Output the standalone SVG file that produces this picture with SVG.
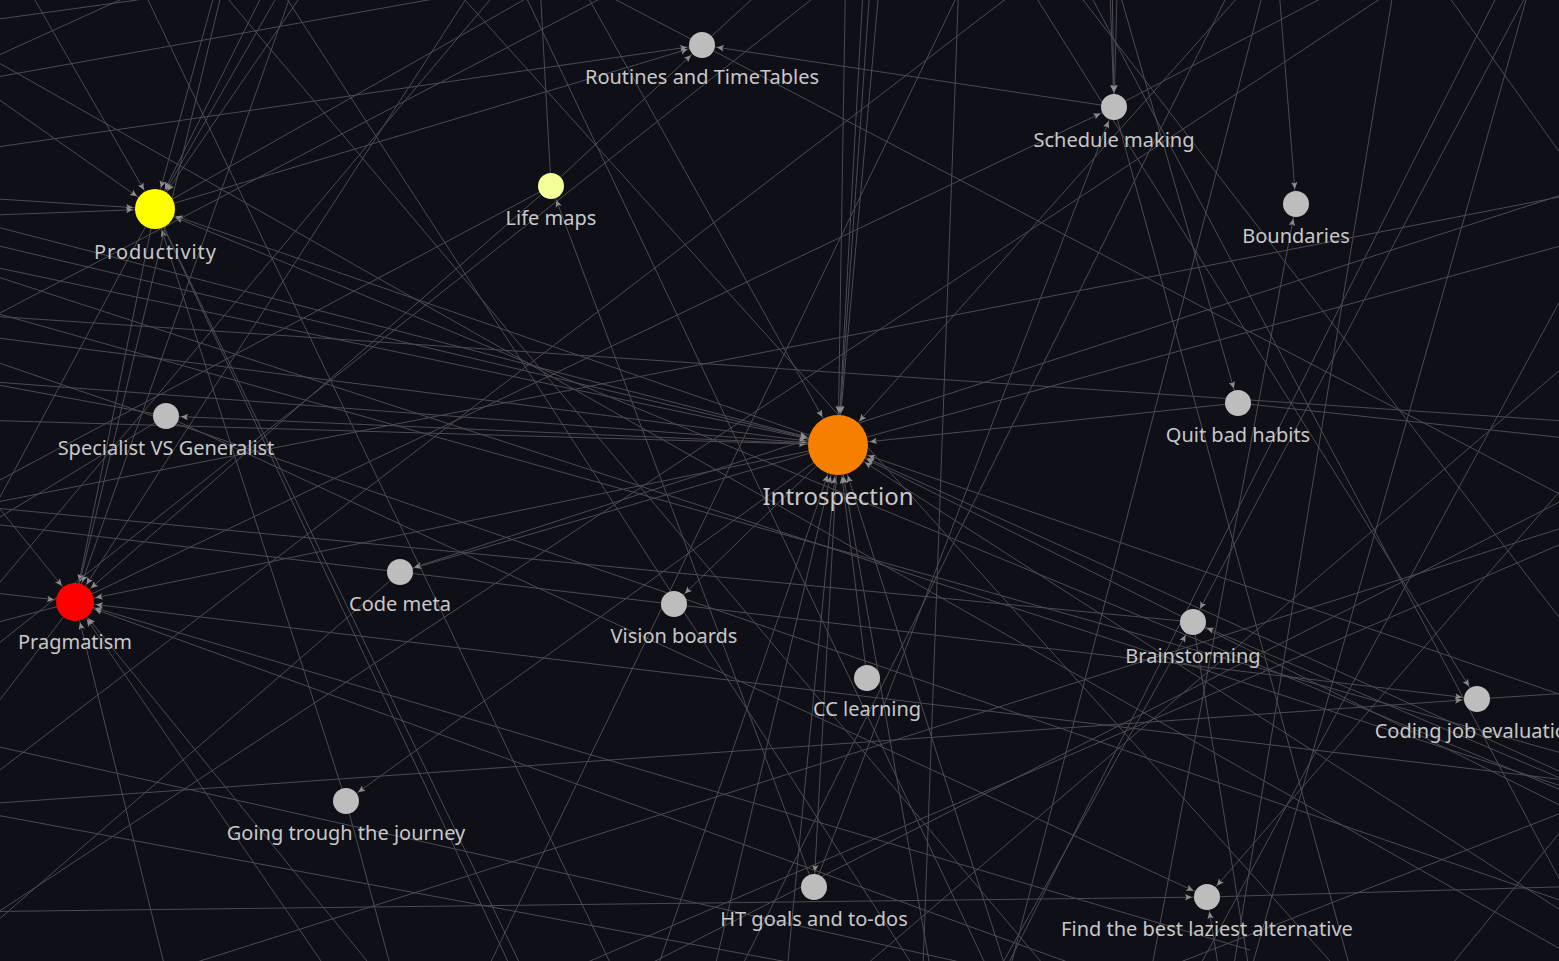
<svg xmlns="http://www.w3.org/2000/svg" width="1559" height="961" viewBox="0 0 1559 961">
<defs>
<style>
.e{stroke:#4b4b50;stroke-width:1;fill:none}
.a13{marker-end:url(#m13)}
.a19{marker-end:url(#m19)}
.a20{marker-end:url(#m20)}
.a30{marker-end:url(#m30)}
.n{fill:#bdbdbd}
.t{font-family:"Noto Sans","Open Sans","DejaVu Sans",sans-serif;font-size:20px;fill:#c8c8c8;text-anchor:middle}
.big{font-size:24px}
</style>
<marker id="m13" markerUnits="userSpaceOnUse" orient="auto" refX="15" refY="0" markerWidth="10" markerHeight="10" overflow="visible"><path d="M0,0 L-7,-3.2 L-5.5,0 L-7,3.2 Z" fill="#8c8c8c"/></marker>
<marker id="m19" markerUnits="userSpaceOnUse" orient="auto" refX="21" refY="0" markerWidth="10" markerHeight="10" overflow="visible"><path d="M0,0 L-7,-3.2 L-5.5,0 L-7,3.2 Z" fill="#8c8c8c"/></marker>
<marker id="m20" markerUnits="userSpaceOnUse" orient="auto" refX="22" refY="0" markerWidth="10" markerHeight="10" overflow="visible"><path d="M0,0 L-7,-3.2 L-5.5,0 L-7,3.2 Z" fill="#8c8c8c"/></marker>
<marker id="m30" markerUnits="userSpaceOnUse" orient="auto" refX="32" refY="0" markerWidth="10" markerHeight="10" overflow="visible"><path d="M0,0 L-7,-3.2 L-5.5,0 L-7,3.2 Z" fill="#8c8c8c"/></marker>
</defs>
<rect width="1559" height="961" fill="#0f0f17"/>
<g id="connectors">
<line class="e a20" x1="-300" y1="180" x2="155" y2="209"/>
<line class="e a20" x1="-300" y1="226" x2="155" y2="209"/>
<line class="e a20" x1="-300" y1="-110" x2="155" y2="209"/>
<line class="e a20" x1="-80" y1="-200" x2="155" y2="209"/>
<line class="e a20" x1="268" y1="-200" x2="155" y2="209"/>
<line class="e a20" x1="360" y1="-200" x2="155" y2="209"/>
<line class="e a20" x1="390" y1="-200" x2="155" y2="209"/>
<line class="e a20" x1="435" y1="-200" x2="155" y2="209"/>
<line class="e a20" x1="838" y1="445" x2="155" y2="209"/>
<line class="e a20" x1="346" y1="801" x2="155" y2="209"/>
<line class="e a20" x1="1900" y1="930" x2="155" y2="209"/>
<line class="e a13" x1="155" y1="209" x2="702" y2="45"/>
<line class="e a19" x1="155" y1="209" x2="75" y2="602"/>
<line class="e" x1="155" y1="209" x2="700" y2="-100"/>
<line class="e" x1="155" y1="209" x2="540" y2="1030"/>
<line class="e" x1="155" y1="209" x2="552" y2="1030"/>
<line class="e" x1="155" y1="209" x2="-120" y2="720"/>
<line class="e a30" x1="-300" y1="150" x2="838" y2="445"/>
<line class="e a30" x1="-300" y1="175" x2="838" y2="445"/>
<line class="e a30" x1="-300" y1="205" x2="838" y2="445"/>
<line class="e a30" x1="-300" y1="300" x2="838" y2="445"/>
<line class="e a30" x1="-300" y1="360" x2="838" y2="445"/>
<line class="e a30" x1="-300" y1="412" x2="838" y2="445"/>
<line class="e a30" x1="879" y1="-300" x2="838" y2="445"/>
<line class="e a30" x1="890" y1="-300" x2="838" y2="445"/>
<line class="e a30" x1="905" y1="-300" x2="838" y2="445"/>
<line class="e a30" x1="850" y1="-300" x2="838" y2="445"/>
<line class="e a30" x1="478" y1="-200" x2="838" y2="445"/>
<line class="e a30" x1="1414" y1="-200" x2="838" y2="445"/>
<line class="e a30" x1="867" y1="678" x2="838" y2="445"/>
<line class="e a30" x1="560" y1="1250" x2="838" y2="445"/>
<line class="e a30" x1="660" y1="1200" x2="838" y2="445"/>
<line class="e a30" x1="760" y1="1250" x2="838" y2="445"/>
<line class="e a30" x1="980" y1="1250" x2="838" y2="445"/>
<line class="e a30" x1="1080" y1="1200" x2="838" y2="445"/>
<line class="e a30" x1="1800" y1="880" x2="838" y2="445"/>
<line class="e a30" x1="1850" y1="950" x2="838" y2="445"/>
<line class="e a30" x1="1750" y1="760" x2="838" y2="445"/>
<line class="e a30" x1="1700" y1="1000" x2="838" y2="445"/>
<line class="e a30" x1="1238" y1="403" x2="838" y2="445"/>
<line class="e" x1="838" y1="445" x2="1800" y2="180"/>
<line class="e a13" x1="838" y1="445" x2="166" y2="416"/>
<line class="e a13" x1="838" y1="445" x2="400" y2="572"/>
<line class="e a13" x1="838" y1="445" x2="674" y2="604"/>
<line class="e a13" x1="838" y1="445" x2="814" y2="887"/>
<line class="e a19" x1="838" y1="445" x2="75" y2="602"/>
<line class="e a13" x1="838" y1="445" x2="346" y2="801"/>
<line class="e a13" x1="1100" y1="-300" x2="1114" y2="107"/>
<line class="e a13" x1="1108" y1="-300" x2="1114" y2="107"/>
<line class="e a13" x1="1125" y1="-300" x2="1114" y2="107"/>
<line class="e a13" x1="75" y1="602" x2="1114" y2="107"/>
<line class="e a13" x1="814" y1="887" x2="1114" y2="107"/>
<line class="e a13" x1="1114" y1="107" x2="702" y2="45"/>
<line class="e" x1="1114" y1="107" x2="1400" y2="1150"/>
<line class="e" x1="1114" y1="107" x2="1700" y2="-200"/>
<line class="e a13" x1="551" y1="186" x2="702" y2="45"/>
<line class="e a13" x1="-300" y1="190" x2="702" y2="45"/>
<line class="e" x1="702" y1="45" x2="860" y2="-100"/>
<line class="e a13" x1="814" y1="887" x2="551" y2="186"/>
<line class="e a19" x1="551" y1="186" x2="75" y2="602"/>
<line class="e" x1="551" y1="186" x2="530" y2="-200"/>
<line class="e" x1="551" y1="186" x2="-300" y2="640"/>
<line class="e a13" x1="1090" y1="-110" x2="1238" y2="403"/>
<line class="e" x1="1238" y1="403" x2="1800" y2="463"/>
<line class="e a13" x1="1264" y1="-200" x2="1296" y2="204"/>
<line class="e a13" x1="1140" y1="1030" x2="1296" y2="204"/>
<line class="e a13" x1="1630" y1="-200" x2="1193" y2="622"/>
<line class="e a13" x1="982" y1="1000" x2="1193" y2="622"/>
<line class="e a13" x1="1800" y1="880" x2="1193" y2="622"/>
<line class="e" x1="1193" y1="622" x2="1270" y2="1100"/>
<line class="e" x1="1193" y1="622" x2="-300" y2="480"/>
<line class="e a13" x1="1000" y1="-60" x2="1477" y2="699"/>
<line class="e a13" x1="-300" y1="824" x2="1477" y2="699"/>
<line class="e a13" x1="-50" y1="519" x2="1477" y2="699"/>
<line class="e" x1="1477" y1="699" x2="1800" y2="678"/>
<line class="e a13" x1="166" y1="416" x2="1207" y2="897"/>
<line class="e a13" x1="1700" y1="330" x2="1207" y2="897"/>
<line class="e a13" x1="1240" y1="1100" x2="1207" y2="897"/>
<line class="e a13" x1="-300" y1="915" x2="1207" y2="897"/>
<line class="e" x1="1207" y1="897" x2="1800" y2="880"/>
<line class="e a13" x1="1700" y1="150" x2="400" y2="572"/>
<line class="e" x1="400" y1="572" x2="-100" y2="1005"/>
<line class="e" x1="346" y1="801" x2="440" y2="1150"/>
<line class="e" x1="166" y1="416" x2="-300" y2="700"/>
<line class="e" x1="166" y1="416" x2="-300" y2="330"/>
<line class="e a19" x1="360" y1="-200" x2="75" y2="602"/>
<line class="e a19" x1="268" y1="-200" x2="75" y2="602"/>
<line class="e a19" x1="595" y1="-200" x2="75" y2="602"/>
<line class="e a19" x1="-300" y1="560" x2="75" y2="602"/>
<line class="e a19" x1="-250" y1="200" x2="75" y2="602"/>
<line class="e a19" x1="1200" y1="1010" x2="75" y2="602"/>
<line class="e a19" x1="1250" y1="950" x2="75" y2="602"/>
<line class="e a19" x1="480" y1="1100" x2="75" y2="602"/>
<line class="e a19" x1="430" y1="1120" x2="75" y2="602"/>
<line class="e a19" x1="200" y1="1110" x2="75" y2="602"/>
<line class="e a19" x1="1900" y1="820" x2="75" y2="602"/>
<line class="e" x1="75" y1="602" x2="-300" y2="700"/>
<line class="e" x1="75" y1="602" x2="-200" y2="960"/>
<line class="e" x1="60" y1="-200" x2="1200" y2="1150"/>
<line class="e" x1="-250" y1="300" x2="1850" y2="440"/>
<line class="e" x1="330" y1="-150" x2="1800" y2="620"/>
<line class="e" x1="700" y1="-250" x2="-200" y2="820"/>
<line class="e" x1="1100" y1="-300" x2="400" y2="1150"/>
<line class="e" x1="1300" y1="-150" x2="650" y2="1150"/>
<line class="e" x1="1560" y1="-120" x2="-150" y2="1010"/>
<line class="e" x1="1800" y1="150" x2="-300" y2="560"/>
<line class="e" x1="1850" y1="420" x2="150" y2="1150"/>
<line class="e" x1="1850" y1="880" x2="-300" y2="180"/>
<line class="e" x1="1500" y1="1150" x2="330" y2="-150"/>
<line class="e" x1="1200" y1="1150" x2="1560" y2="-120"/>
<line class="e" x1="950" y1="1200" x2="1300" y2="-150"/>
<line class="e" x1="1505" y1="-20" x2="990" y2="1000"/>
<line class="e" x1="1400" y1="-50" x2="1220" y2="1050"/>
<line class="e" x1="1060" y1="-30" x2="1700" y2="800"/>
<line class="e" x1="1040" y1="-100" x2="1650" y2="1050"/>
<line class="e" x1="960" y1="-50" x2="920" y2="1050"/>
<line class="e" x1="-300" y1="60" x2="720" y2="-80"/>
<line class="e" x1="-300" y1="130" x2="1100" y2="-120"/>
<line class="e" x1="-200" y1="-50" x2="1650" y2="1000"/>
<line class="e" x1="-100" y1="100" x2="560" y2="-200"/>
<line class="e" x1="-300" y1="470" x2="980" y2="-200"/>
<line class="e" x1="-300" y1="880" x2="1000" y2="-150"/>
<line class="e" x1="-300" y1="1000" x2="1200" y2="-150"/>
<line class="e" x1="-300" y1="1120" x2="1650" y2="500"/>
<line class="e" x1="-300" y1="760" x2="1800" y2="1150"/>
<line class="e" x1="-300" y1="680" x2="1800" y2="1150"/>
<line class="e" x1="-300" y1="990" x2="1850" y2="1080"/>
<line class="e" x1="480" y1="-100" x2="1050" y2="1100"/>
<line class="e" x1="210" y1="-120" x2="1000" y2="1100"/>
<line class="e" x1="100" y1="-100" x2="700" y2="1150"/>
<line class="e" x1="1700" y1="250" x2="650" y2="1150"/>
<line class="e" x1="1750" y1="600" x2="1300" y2="1150"/>
<line class="e" x1="1650" y1="-100" x2="1750" y2="1100"/>
<line class="e" x1="1800" y1="380" x2="480" y2="1050"/>
<line class="e" x1="1850" y1="700" x2="700" y2="1150"/>
<line class="e" x1="1380" y1="-100" x2="1850" y2="560"/>
<line class="e" x1="1750" y1="-50" x2="1100" y2="1150"/>
<line class="e" x1="-300" y1="260" x2="1850" y2="1000"/>
<line class="e" x1="-300" y1="230" x2="1800" y2="820"/>
</g>
<g id="node-introspection"><circle cx="838" cy="445" r="30" style="fill:#f77f00"/><text class="t big" x="838" y="505">Introspection</text></g>
<g id="node-productivity"><circle cx="155" cy="209" r="20" style="fill:#ffff00"/><text class="t" x="155" y="259" textLength="122">Productivity</text></g>
<g id="node-pragmatism"><circle cx="75" cy="602" r="19" style="fill:#ff0000"/><text class="t" x="75" y="649">Pragmatism</text></g>
<g id="node-lifemaps"><circle cx="551" cy="186" r="13" style="fill:#f4ff99"/><text class="t" x="551" y="225">Life maps</text></g>
<g id="node-routines"><circle class="n" cx="702" cy="45" r="13"/><text class="t" x="702" y="84">Routines and TimeTables</text></g>
<g id="node-schedule"><circle class="n" cx="1114" cy="107" r="13"/><text class="t" x="1114" y="147">Schedule making</text></g>
<g id="node-boundaries"><circle class="n" cx="1296" cy="204" r="13"/><text class="t" x="1296" y="243">Boundaries</text></g>
<g id="node-quit"><circle class="n" cx="1238" cy="403" r="13"/><text class="t" x="1238" y="442">Quit bad habits</text></g>
<g id="node-specialist"><circle class="n" cx="166" cy="416" r="13"/><text class="t" x="166" y="455">Specialist VS Generalist</text></g>
<g id="node-codemeta"><circle class="n" cx="400" cy="572" r="13"/><text class="t" x="400" y="611">Code meta</text></g>
<g id="node-vision"><circle class="n" cx="674" cy="604" r="13"/><text class="t" x="674" y="643">Vision boards</text></g>
<g id="node-cc"><circle class="n" cx="867" cy="678" r="13"/><text class="t" x="867" y="716">CC learning</text></g>
<g id="node-brainstorming"><circle class="n" cx="1193" cy="622" r="13"/><text class="t" x="1193" y="663">Brainstorming</text></g>
<g id="node-codingjob"><circle class="n" cx="1477" cy="699" r="13"/><text class="t" x="1477" y="738">Coding job evaluation</text></g>
<g id="node-journey"><circle class="n" cx="346" cy="801" r="13"/><text class="t" x="346" y="840">Going trough the journey</text></g>
<g id="node-htgoals"><circle class="n" cx="814" cy="887" r="13"/><text class="t" x="814" y="926">HT goals and to-dos</text></g>
<g id="node-findbest"><circle class="n" cx="1207" cy="897" r="13"/><text class="t" x="1207" y="936">Find the best laziest alternative</text></g>
</svg>
